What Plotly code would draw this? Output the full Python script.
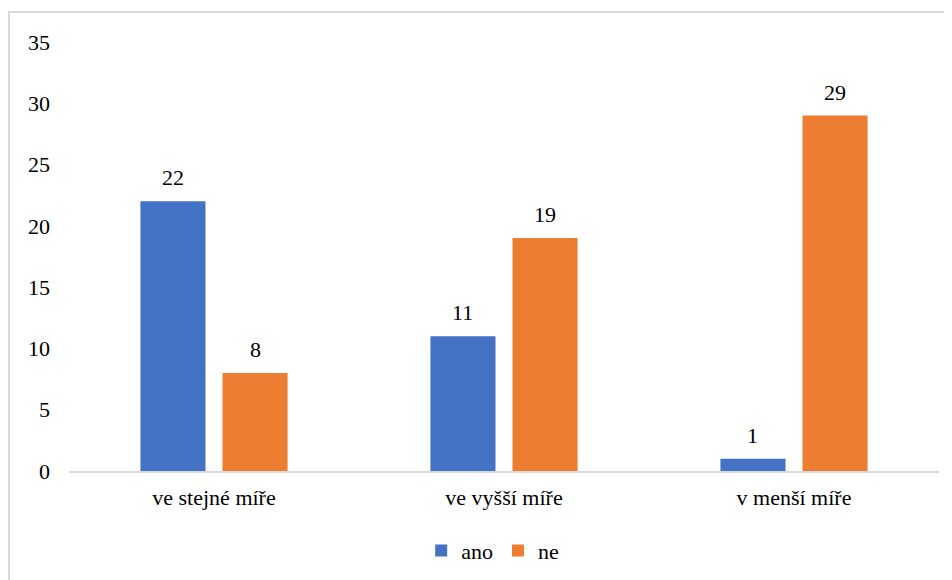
import plotly.graph_objects as go

categories = ["ve stejné míře", "ve vyšší míře", "v menší míře"]
ano = [22, 11, 1]
ne = [8, 19, 29]
y_ticks = [0, 5, 10, 15, 20, 25, 30, 35]

# page has an 8px body margin, so figure is 944x572 placed at (8, 8)
W, H = 944, 572
FONT = "Times New Roman, Liberation Serif, Tinos, serif"
FS = 22
BARGAP = 0.434
BARGROUPGAP = 0.207
L, R, T, B = 61, 5, 34, 109

fig = go.Figure()
fig.add_trace(go.Bar(name="ano", x=categories, y=ano, marker_color="#4472C4",
                     marker_line_width=0))
fig.add_trace(go.Bar(name="ne", x=categories, y=ne, marker_color="#ED7D31",
                     marker_line_width=0))

# value labels above each bar
slot = (1 - BARGAP) / 2
for s, vals in enumerate([ano, ne]):
    off = (s - 0.5) * slot
    for i, v in enumerate(vals):
        fig.add_annotation(x=i + off, y=v, xref="x", yref="y", text=str(v),
                           showarrow=False, yanchor="bottom", yshift=9,
                           font=dict(family=FONT, size=FS, color="#000000"))

fig.update_layout(
    template="none",
    width=W, height=H, autosize=False,
    margin=dict(l=L, r=R + 8, t=T, b=B, autoexpand=False),
    paper_bgcolor="white", plot_bgcolor="white",
    font=dict(family=FONT, size=FS, color="#000000"),
    barmode="group", bargap=BARGAP, bargroupgap=BARGROUPGAP,
    showlegend=True,
    legend=dict(orientation="h", x=0.487, xanchor="center", y=-0.186, yanchor="middle",
                font=dict(family=FONT, size=FS, color="#000000"),
                traceorder="normal"),
    shapes=[dict(type="rect", xref="paper", yref="paper",
                 x0=-(L - 1) / 870, x1=1.1, y0=-0.4, y1=1 + 30 / 429,
                 line=dict(color="#d9d9d9", width=2), layer="below")],
)
fig.update_xaxes(showline=True, linecolor="#d9d9d9", linewidth=1.5, showgrid=False,
                 zeroline=False, ticks="", ticklabelstandoff=6,
                 tickfont=dict(family=FONT, size=FS, color="#000000"),
                 automargin=False)
fig.update_yaxes(range=[0, 35], tickvals=y_ticks, showgrid=False, zeroline=False,
                 showline=False, ticks="", ticklabelstandoff=18,
                 tickfont=dict(family=FONT, size=FS, color="#000000"), automargin=False)

fig.write_html("out.html")
